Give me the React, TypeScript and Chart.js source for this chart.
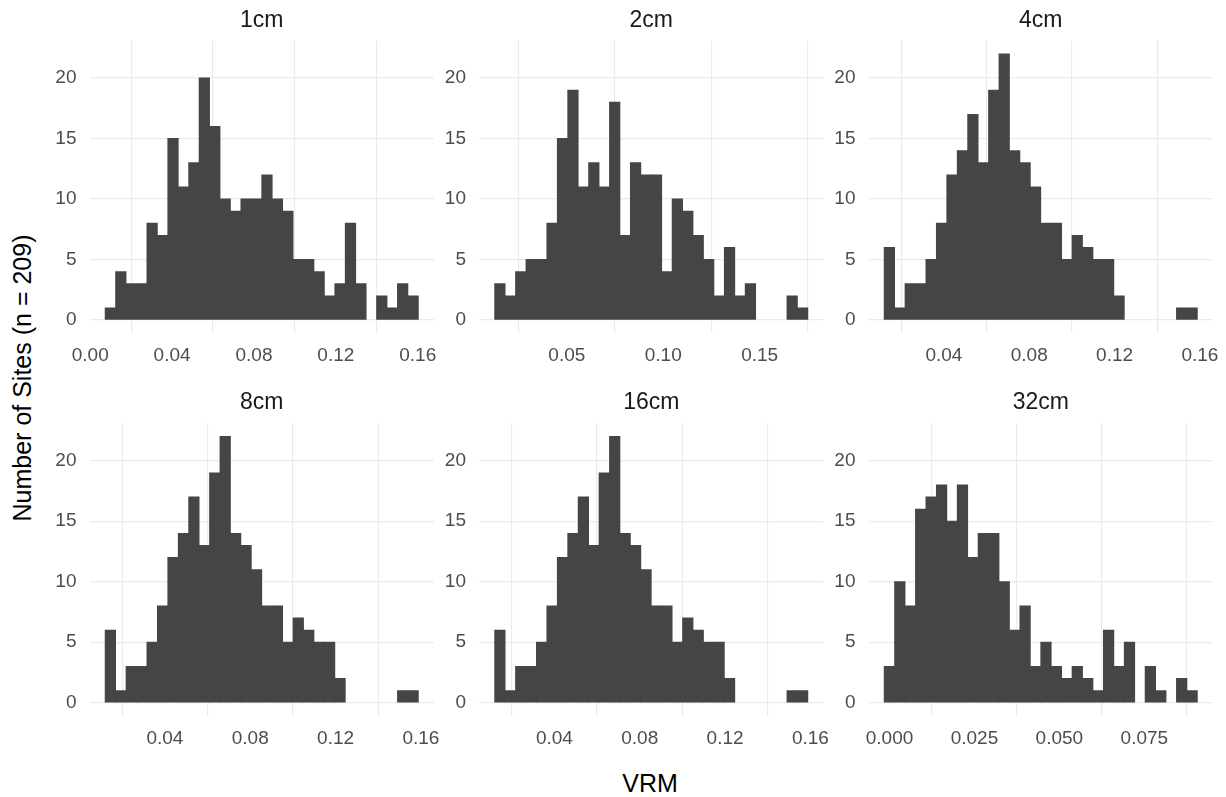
import React, { useEffect, useRef } from "react";
import { Chart, registerables } from "chart.js";

Chart.register(...registerables);

// ---- Data ----
const panelTitles = ["1cm", "2cm", "4cm", "8cm", "16cm", "32cm"];

const counts1cm = [1, 4, 3, 3, 8, 7, 15, 11, 13, 20, 16, 10, 9, 10, 10, 12, 10, 9, 5, 5, 4, 2, 3, 8, 3, 0, 2, 1, 3, 2];
const counts2cm = [3, 2, 4, 5, 5, 8, 15, 19, 11, 13, 11, 18, 7, 13, 12, 12, 4, 10, 9, 7, 5, 2, 6, 2, 3, 0, 0, 0, 2, 1];
const counts4cm = [6, 1, 3, 3, 5, 8, 12, 14, 17, 13, 19, 22, 14, 13, 11, 8, 8, 5, 7, 6, 5, 5, 2, 0, 0, 0, 0, 0, 1, 1];
const counts8cm = [6, 1, 3, 3, 5, 8, 12, 14, 17, 13, 19, 22, 14, 13, 11, 8, 8, 5, 7, 6, 5, 5, 2, 0, 0, 0, 0, 0, 1, 1];
const counts16cm = [6, 1, 3, 3, 5, 8, 12, 14, 17, 13, 19, 22, 14, 13, 11, 8, 8, 5, 7, 6, 5, 5, 2, 0, 0, 0, 0, 0, 1, 1];
const counts32cm = [3, 10, 8, 16, 17, 18, 15, 18, 12, 14, 14, 10, 6, 8, 3, 5, 3, 2, 3, 2, 1, 6, 3, 5, 0, 3, 1, 0, 2, 1];

// left edge of first bin / right edge of last bin for each panel
const binStarts = [0.0073, 0.01255, 0.012, 0.012, 0.012, -0.00157];
const binEnds = [0.1603, 0.175, 0.1588, 0.1588, 0.1588, 0.0906];

const xTicks1cm = [0.0, 0.04, 0.08, 0.12, 0.16];
const xTicks2cm = [0.05, 0.1, 0.15];
const xTicks4cm = [0.04, 0.08, 0.12, 0.16];
const xTicks8cm = [0.04, 0.08, 0.12, 0.16];
const xTicks16cm = [0.04, 0.08, 0.12, 0.16];
const xTicks32cm = [0.0, 0.025, 0.05, 0.075];
const xTickDecimals = [2, 2, 2, 2, 2, 3];

const yTicks = [0, 5, 10, 15, 20];
const yMaxCount = 22;

const xAxisTitle = "VRM";
const yAxisTitle = "Number of Sites (n = 209)";

const allCounts = [counts1cm, counts2cm, counts4cm, counts8cm, counts16cm, counts32cm];
const allXTicks = [xTicks1cm, xTicks2cm, xTicks4cm, xTicks8cm, xTicks16cm, xTicks32cm];

// ---- Layout ----
const FONT = "'Liberation Sans', Arial, Helvetica, sans-serif";
const colLefts = [89.5, 479, 868.5];
const rowTops = [40.5, 423.2];
const PANEL_W = 344.5;
const PANEL_H = 292.8;
const YW = 50; // y-axis width (and mirrored blank space on the right)
const TH = 40; // title height
const XH = 45; // x-axis height

function Panel({ idx }: { idx: number }) {
  const ref = useRef<HTMLCanvasElement | null>(null);
  const col = idx % 3;
  const row = Math.floor(idx / 3);
  const areaLeft = colLefts[col];
  const areaTop = rowTops[row];
  const canvasLeft = Math.floor(areaLeft - YW);
  const canvasTop = Math.floor(areaTop - TH);
  const padLeft = areaLeft - YW - canvasLeft;
  const padTop = areaTop - TH - canvasTop;
  const width = Math.ceil(padLeft + YW + PANEL_W + YW + padLeft);
  const height = Math.ceil(padTop + TH + PANEL_H + XH);
  const padRight = width - padLeft - YW - PANEL_W - YW;
  const padBottom = height - padTop - TH - PANEL_H - XH;

  useEffect(() => {
    const counts = allCounts[idx];
    const start = binStarts[idx];
    const end = binEnds[idx];
    const n = counts.length;
    const bw = (end - start) / n;
    const data = counts.map((c, i) => ({ x: start + (i + 0.5) * bw, y: c }));
    const range = end - start;
    const xMin = start - 0.05 * range;
    const xMax = end + 0.05 * range;
    const yMin = -0.05 * yMaxCount;
    const yMax = yMaxCount * 1.05;
    const ticksX = allXTicks[idx];
    const dec = xTickDecimals[idx];

    const chart = new Chart(ref.current as HTMLCanvasElement, {
      type: "bar",
      data: {
        datasets: [
          {
            data,
            backgroundColor: "#454545",
            borderWidth: 0,
            barPercentage: 1,
            categoryPercentage: 1,
            inflateAmount: (c: any) => (c.raw && c.raw.y === 0 ? 0 : 0.4),
          } as any,
        ],
      },
      options: {
        animation: false,
        responsive: false,
        maintainAspectRatio: false,
        events: [],
        layout: {
          padding: { left: padLeft, top: padTop, right: padRight, bottom: padBottom },
        },
        plugins: {
          legend: { display: false },
          tooltip: { enabled: false },
          title: {
            display: true,
            text: panelTitles[idx],
            color: "#1A1A1A",
            font: { family: FONT, size: 23, weight: "normal" as any, lineHeight: 1.2 },
            padding: { top: 6, bottom: 6.4 },
          },
        },
        scales: {
          x: {
            type: "linear",
            min: xMin,
            max: xMax,
            offset: false,
            grid: { color: "#EBEBEB", lineWidth: 1.2, drawTicks: false },
            border: { display: false },
            ticks: {
              color: "#4D4D4D",
              font: { family: FONT, size: 19 },
              padding: 11,
              autoSkip: false,
              maxRotation: 0,
              callback: (v: any) => Number(v).toFixed(dec),
            },
            afterBuildTicks: (s: any) => {
              s.ticks = ticksX.map((v) => ({ value: v }));
            },
            afterFit: (s: any) => {
              s.height = XH;
              s.paddingLeft = 0;
              s.paddingRight = 0;
            },
          },
          y: {
            type: "linear",
            position: "left",
            min: yMin,
            max: yMax,
            grid: { color: "#EBEBEB", lineWidth: 1.2, drawTicks: false },
            border: { display: false },
            ticks: {
              color: "#4D4D4D",
              font: { family: FONT, size: 19 },
              padding: 13,
              callback: (v: any) => String(v),
            },
            afterBuildTicks: (s: any) => {
              s.ticks = yTicks.map((v) => ({ value: v }));
            },
            afterFit: (s: any) => {
              s.width = YW;
              s.paddingTop = 0;
              s.paddingBottom = 0;
            },
          },
          yRightSpacer: {
            type: "linear",
            position: "right",
            min: 0,
            max: 1,
            grid: { display: false, drawTicks: false },
            border: { display: false },
            ticks: { display: false },
            afterFit: (s: any) => {
              s.width = YW;
              s.paddingTop = 0;
              s.paddingBottom = 0;
            },
          },
        },
      } as any,
    });
    return () => chart.destroy();
  }, [idx]);

  return (
    <canvas
      ref={ref}
      width={width}
      height={height}
      style={{ position: "absolute", left: canvasLeft, top: canvasTop, width, height }}
    />
  );
}

export default function App() {
  return (
    <div
      style={{
        position: "fixed",
        left: 0,
        top: 0,
        width: 1226,
        height: 797,
        overflow: "hidden",
        background: "#FFFFFF",
        fontFamily: FONT,
      }}
    >
      {panelTitles.map((_, i) => (
        <Panel key={i} idx={i} />
      ))}
      <div
        style={{
          position: "absolute",
          left: 650,
          top: 782.5,
          transform: "translate(-50%, -50%)",
          fontSize: 25,
          lineHeight: 1,
          whiteSpace: "nowrap",
          color: "#000000",
        }}
      >
        {xAxisTitle}
      </div>
      <div
        style={{
          position: "absolute",
          left: 22,
          top: 378,
          transform: "translate(-50%, -50%) rotate(-90deg)",
          fontSize: 25,
          lineHeight: 1,
          whiteSpace: "nowrap",
          color: "#000000",
        }}
      >
        {yAxisTitle}
      </div>
    </div>
  );
}
